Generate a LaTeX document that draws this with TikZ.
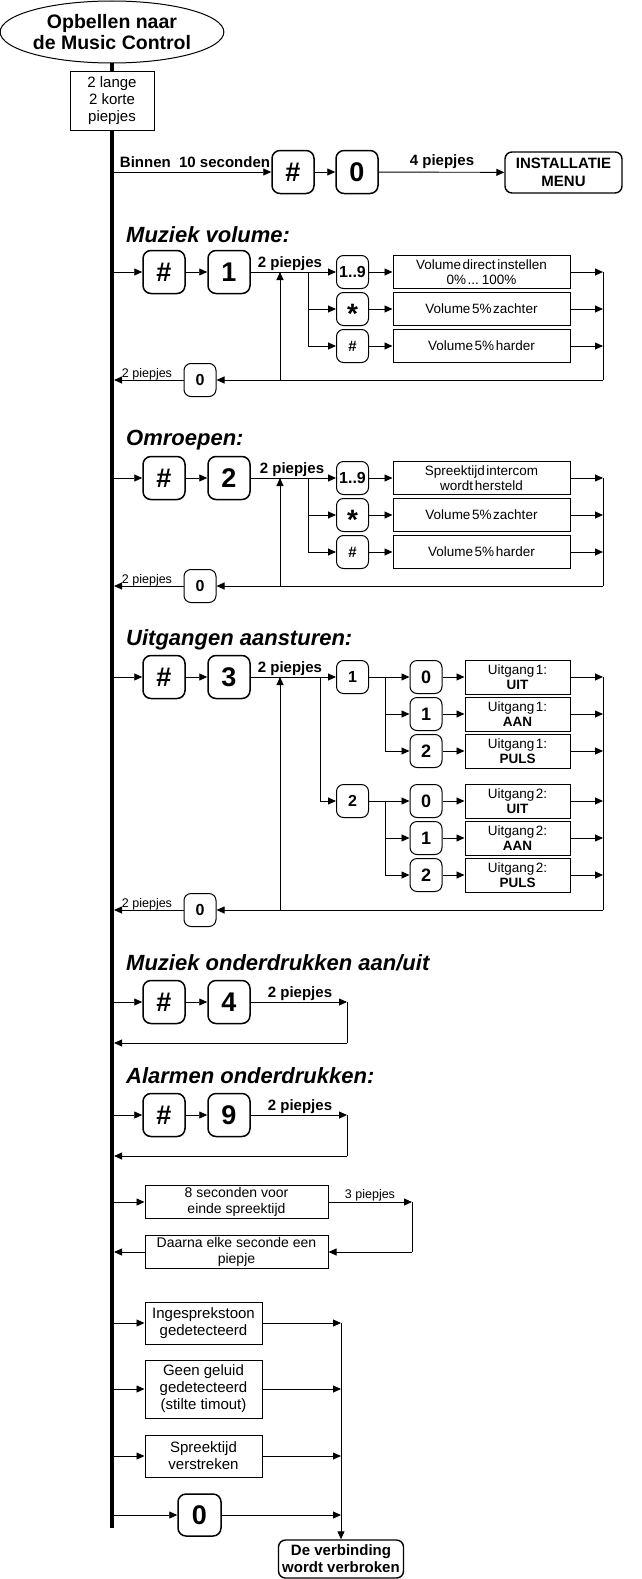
\documentclass[tikz,border=0pt]{standalone}
\usepackage{fontspec}
\setmainfont{Liberation Sans}
\usetikzlibrary{shapes.geometric,arrows.meta}

\newcommand{\krap}{\spaceskip=.12em plus .05em\relax}
\newcommand{\ster}{\raisebox{-.52em}[0pt][0pt]{*}}

\tikzset{
  arr/.style={-{Triangle[length=8pt,width=7pt]}, line width=0.9pt},
  lijn/.style={line width=0.9pt},
  startnode/.style={draw, ellipse, line width=1pt, minimum width=200pt, minimum height=62pt, inner sep=0pt, align=center, font=\fontsize{19.5}{21}\selectfont\bfseries},
  tekstbox/.style={draw, line width=1pt, fill=white, align=center, inner sep=0pt, font=\fontsize{15}{17}\selectfont},
  menubox/.style={draw, rounded corners=7pt, line width=1.4pt, minimum width=117pt, minimum height=41pt, inner sep=0pt, align=center, font=\fontsize{15}{18}\selectfont\bfseries},
  bigkey/.style={draw, rounded corners=8pt, line width=1.5pt, minimum width=42pt, minimum height=43pt, inner sep=0pt, font=\fontsize{27}{27}\selectfont\bfseries},
  smallkey/.style={draw, rounded corners=7pt, line width=1pt, minimum width=32pt, minimum height=33pt, inner sep=0pt, font=\fontsize{16}{16}\selectfont\bfseries},
  subkey/.style={smallkey, font=\fontsize{18}{18}\selectfont\bfseries},
  hashkey/.style={smallkey, font=\fontsize{15}{15}\selectfont\bfseries},
  sterkey/.style={smallkey, font=\fontsize{28}{28}\selectfont\bfseries},
  desc/.style={draw, line width=1pt, minimum width=177pt, minimum height=33pt, inner sep=0pt, align=center, font=\fontsize{13.5}{15}\selectfont\krap},
  uitbox/.style={desc, minimum width=105pt, minimum height=34pt},
  tijdbox/.style={desc, minimum width=183pt, font=\fontsize{14}{16}\selectfont},
  kop/.style={anchor=base west, inner sep=0pt, font=\fontsize{22}{22}\selectfont\bfseries\itshape},
  lblb/.style={anchor=base, inner sep=0pt, font=\fontsize{15}{15}\selectfont\bfseries},
  lbl/.style={anchor=base, inner sep=0pt, font=\fontsize{12.5}{12.5}\selectfont},
}

\begin{document}
\begin{tikzpicture}[x=1pt, y=-1pt]
    \useasboundingbox (0,0) rectangle (642,1579);

    % start en hoofdlijn
    \node[startnode] (start) at (112,32) {Opbellen naar\\de Music Control};
    \coordinate (barend) at (112,1528);
    \draw[line width=4pt] (start.south) -- (barend);
    \node[tekstbox, minimum width=84pt, minimum height=58pt] (piep) at (112,101) {2 lange\\2 korte\\piepjes};

    \foreach \n/\y in {b0/172, b1/272, r1/380, b2/478, r2/586, b3/677, r3/910, b4/1002, r4/1043,
                       b5/1115, r5/1156, b6/1202, r6/1252, b7/1323, b8/1389, b9/1456, b10/1515}
        \coordinate (\n) at (114,\y);

    % installatie menu
    \node[bigkey] (hashA) at (293,172) {\#};
    \node[bigkey] (nulA) at (357,172) {0};
    \node[menubox] (menu) at (563.5,172.5) {INSTALLATIE\\MENU};
    \draw[arr] (b0) -- (hashA);
    \node[lblb] (tbinnen) at (195,167) {Binnen\ \ 10 seconden};
    \draw[arr] (hashA) -- (nulA);
    \draw[arr] (nulA) -- (menu);
    \node[lblb] (t4piep) at (442,165) {4 piepjes};

    % muziek volume
    \node[kop] (kop1) at (126,242) {Muziek volume:};
    \node[bigkey] (hash1) at (164,272) {\#};
    \node[bigkey] (een1) at (229,272) {1};
    \node[smallkey] (k11) at (352.5,272) {1..9};
    \node[sterkey] (k12) at (352.5,309) {\ster};
    \node[hashkey] (k13) at (352.5,346) {\#};
    \node[desc] (d11) at (481.5,272) {Volume direct instellen\\0\% ... 100\%};
    \node[desc] (d12) at (481.5,309) {Volume 5\% zachter};
    \node[desc] (d13) at (481.5,346) {Volume 5\% harder};
    \node[smallkey] (nul1) at (200,380) {0};
    \coordinate (s11) at (308,272);
    \coordinate (s12) at (308,309);
    \coordinate (s13) at (308,346);
    \coordinate (e11) at (603,272);
    \coordinate (e12) at (603,309);
    \coordinate (e13) at (603,346);
    \coordinate (e14) at (603,380);
    \coordinate (o11) at (280,380);
    \coordinate (o12) at (280,272);
    \draw[arr] (b1) -- (hash1);
    \draw[arr] (hash1) -- (een1);
    \draw[arr] (een1) -- (k11);
    \node[lblb] (t2piep1) at (290,267) {2 piepjes};
    \draw[lijn] (s11) -- (s13);
    \draw[arr] (s12) -- (k12);
    \draw[arr] (s13) -- (k13);
    \draw[arr] (k11) -- (d11);
    \draw[arr] (k12) -- (d12);
    \draw[arr] (k13) -- (d13);
    \draw[arr] (d11) -- (e11);
    \draw[arr] (d12) -- (e12);
    \draw[arr] (d13) -- (e13);
    \draw[lijn] (e11) -- (e14);
    \draw[arr] (e14) -- (nul1);
    \draw[arr] (nul1) -- (r1);
    \node[lbl] (t2piep1r) at (147,377) {2 piepjes};
    \draw[arr] (o11) -- (o12);

    % omroepen
    \node[kop] (kop2) at (126,445) {Omroepen:};
    \node[bigkey] (hash2) at (164,478) {\#};
    \node[bigkey] (twee2) at (229,478) {2};
    \node[smallkey] (k21) at (352.5,478) {1..9};
    \node[sterkey] (k22) at (352.5,515) {\ster};
    \node[hashkey] (k23) at (352.5,552) {\#};
    \node[desc] (d21) at (481.5,478) {Spreektijd intercom\\wordt hersteld};
    \node[desc] (d22) at (481.5,515) {Volume 5\% zachter};
    \node[desc] (d23) at (481.5,552) {Volume 5\% harder};
    \node[smallkey] (nul2) at (200,586) {0};
    \coordinate (s21) at (308,478);
    \coordinate (s22) at (308,515);
    \coordinate (s23) at (308,552);
    \coordinate (e21) at (603,478);
    \coordinate (e22) at (603,515);
    \coordinate (e23) at (603,552);
    \coordinate (e24) at (603,586);
    \coordinate (o21) at (280,586);
    \coordinate (o22) at (280,478);
    \draw[arr] (b2) -- (hash2);
    \draw[arr] (hash2) -- (twee2);
    \draw[arr] (twee2) -- (k21);
    \node[lblb] (t2piep2) at (292,473) {2 piepjes};
    \draw[lijn] (s21) -- (s23);
    \draw[arr] (s22) -- (k22);
    \draw[arr] (s23) -- (k23);
    \draw[arr] (k21) -- (d21);
    \draw[arr] (k22) -- (d22);
    \draw[arr] (k23) -- (d23);
    \draw[arr] (d21) -- (e21);
    \draw[arr] (d22) -- (e22);
    \draw[arr] (d23) -- (e23);
    \draw[lijn] (e21) -- (e24);
    \draw[arr] (e24) -- (nul2);
    \draw[arr] (nul2) -- (r2);
    \node[lbl] (t2piep2r) at (147,583) {2 piepjes};
    \draw[arr] (o21) -- (o22);

    % uitgangen aansturen
    \node[kop] (kop3) at (126,645) {Uitgangen aansturen:};
    \node[bigkey] (hash3) at (164,677) {\#};
    \node[bigkey] (drie3) at (229,677) {3};
    \node[smallkey] (uit1) at (352.5,677) {1};
    \node[smallkey] (uit2) at (352.5,801) {2};
    \node[subkey] (u10) at (426,677) {0};
    \node[subkey] (u11) at (426,714) {1};
    \node[subkey] (u12) at (426,751) {2};
    \node[subkey] (u20) at (426,801) {0};
    \node[subkey] (u21) at (426,838) {1};
    \node[subkey] (u22) at (426,875) {2};
    \node[uitbox] (d30) at (517.5,677) {Uitgang 1:\\\textbf{UIT}};
    \node[uitbox] (d31) at (517.5,714) {Uitgang 1:\\\textbf{AAN}};
    \node[uitbox] (d32) at (517.5,751) {Uitgang 1:\\\textbf{PULS}};
    \node[uitbox] (d40) at (517.5,801) {Uitgang 2:\\\textbf{UIT}};
    \node[uitbox] (d41) at (517.5,838) {Uitgang 2:\\\textbf{AAN}};
    \node[uitbox] (d42) at (517.5,875) {Uitgang 2:\\\textbf{PULS}};
    \node[smallkey] (nul3) at (200,910) {0};
    \coordinate (s31) at (320,677);
    \coordinate (s32) at (320,801);
    \coordinate (q10) at (385,677);
    \coordinate (q11) at (385,714);
    \coordinate (q12) at (385,751);
    \coordinate (q20) at (385,801);
    \coordinate (q21) at (385,838);
    \coordinate (q22) at (385,875);
    \coordinate (e30) at (603,677);
    \coordinate (e31) at (603,714);
    \coordinate (e32) at (603,751);
    \coordinate (e40) at (603,801);
    \coordinate (e41) at (603,838);
    \coordinate (e42) at (603,875);
    \coordinate (e43) at (603,910);
    \coordinate (o31) at (280,910);
    \coordinate (o32) at (280,677);
    \draw[arr] (b3) -- (hash3);
    \draw[arr] (hash3) -- (drie3);
    \draw[arr] (drie3) -- (uit1);
    \node[lblb] (t2piep3) at (290,672) {2 piepjes};
    \draw[lijn] (s31) -- (s32);
    \draw[arr] (s32) -- (uit2);
    \draw[arr] (uit1) -- (u10);
    \draw[arr] (uit2) -- (u20);
    \draw[lijn] (q10) -- (q12);
    \draw[lijn] (q20) -- (q22);
    \draw[arr] (q11) -- (u11);
    \draw[arr] (q12) -- (u12);
    \draw[arr] (q21) -- (u21);
    \draw[arr] (q22) -- (u22);
    \draw[arr] (u10) -- (d30);
    \draw[arr] (u11) -- (d31);
    \draw[arr] (u12) -- (d32);
    \draw[arr] (u20) -- (d40);
    \draw[arr] (u21) -- (d41);
    \draw[arr] (u22) -- (d42);
    \draw[arr] (d30) -- (e30);
    \draw[arr] (d31) -- (e31);
    \draw[arr] (d32) -- (e32);
    \draw[arr] (d40) -- (e40);
    \draw[arr] (d41) -- (e41);
    \draw[arr] (d42) -- (e42);
    \draw[lijn] (e30) -- (e43);
    \draw[arr] (e43) -- (nul3);
    \draw[arr] (nul3) -- (r3);
    \node[lbl] (t2piep3r) at (147,907) {2 piepjes};
    \draw[arr] (o31) -- (o32);

    % muziek onderdrukken
    \node[kop] (kop4) at (126,970) {Muziek onderdrukken aan/uit};
    \node[bigkey] (hash4) at (164,1002) {\#};
    \node[bigkey] (vier4) at (229,1002) {4};
    \coordinate (c41) at (347,1002);
    \coordinate (c42) at (347,1043);
    \draw[arr] (b4) -- (hash4);
    \draw[arr] (hash4) -- (vier4);
    \draw[arr] (vier4) -- (c41);
    \node[lblb] (t2piep4) at (300,997) {2 piepjes};
    \draw[lijn] (c41) -- (c42);
    \draw[arr] (c42) -- (r4);

    % alarmen onderdrukken
    \node[kop] (kop5) at (126,1083) {Alarmen onderdrukken:};
    \node[bigkey] (hash5) at (164,1115) {\#};
    \node[bigkey] (negen5) at (229,1115) {9};
    \coordinate (c51) at (347,1115);
    \coordinate (c52) at (347,1156);
    \draw[arr] (b5) -- (hash5);
    \draw[arr] (hash5) -- (negen5);
    \draw[arr] (negen5) -- (c51);
    \node[lblb] (t2piep5) at (300,1110) {2 piepjes};
    \draw[lijn] (c51) -- (c52);
    \draw[arr] (c52) -- (r5);

    % einde spreektijd
    \node[tijdbox] (acht) at (236.5,1202) {8 seconden voor\\einde spreektijd};
    \node[tijdbox] (daarna) at (236.5,1252) {Daarna elke seconde een\\piepje};
    \coordinate (c61) at (412,1202);
    \coordinate (c62) at (412,1252);
    \draw[arr] (b6) -- (acht);
    \draw[arr] (acht) -- (c61);
    \node[lbl] (t3piep) at (370,1198) {3 piepjes};
    \draw[lijn] (c61) -- (c62);
    \draw[arr] (c62) -- (daarna);
    \draw[arr] (daarna) -- (r6);

    % verbinding verbroken
    \node[tekstbox, minimum width=117pt, minimum height=42pt] (inges) at (203.5,1323) {Ingesprekstoon\\gedetecteerd};
    \node[tekstbox, minimum width=117pt, minimum height=58pt] (geen) at (203.5,1389) {Geen geluid\\gedetecteerd\\(stilte timout)};
    \node[tekstbox, minimum width=117pt, minimum height=42pt] (spreek) at (203.5,1456) {Spreektijd\\verstreken};
    \node[bigkey, minimum width=43pt, minimum height=42pt] (nul7) at (199.5,1515) {0};
    \node[menubox, minimum width=125pt, minimum height=38pt, font=\fontsize{15}{17}\selectfont\bfseries] (verb) at (341,1559) {De verbinding\\wordt verbroken};
    \coordinate (c71) at (341,1323);
    \coordinate (c72) at (341,1389);
    \coordinate (c73) at (341,1456);
    \coordinate (c74) at (341,1515);
    \draw[arr] (b7) -- (inges);
    \draw[arr] (b8) -- (geen);
    \draw[arr] (b9) -- (spreek);
    \draw[arr] (b10) -- (nul7);
    \draw[arr] (inges) -- (c71);
    \draw[arr] (geen) -- (c72);
    \draw[arr] (spreek) -- (c73);
    \draw[arr] (nul7) -- (c74);
    \draw[arr] (c71) -- (verb);
\end{tikzpicture}
\end{document}
